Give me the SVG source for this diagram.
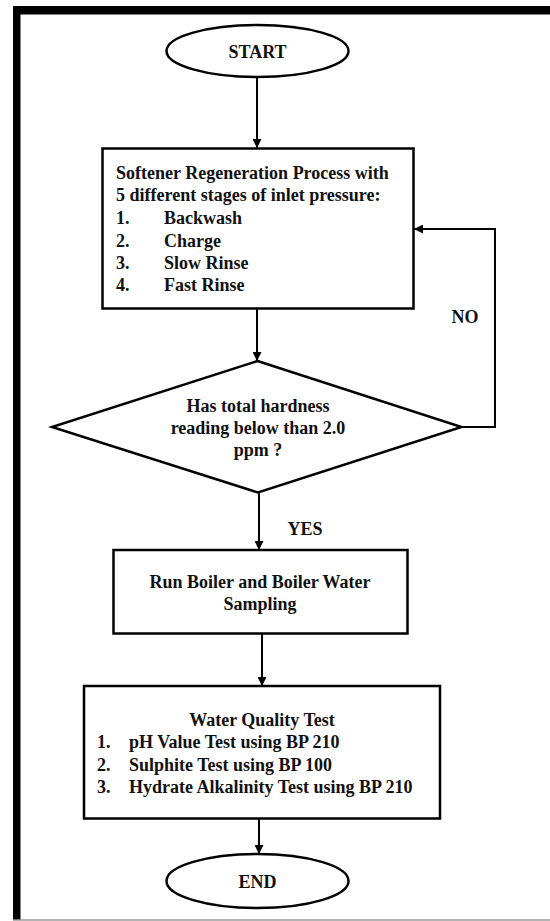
<svg xmlns="http://www.w3.org/2000/svg" width="550" height="921" viewBox="0 0 550 921">
<defs>
<marker id="ah" viewBox="0 0 10 10" refX="10" refY="5" markerWidth="9" markerHeight="9" markerUnits="userSpaceOnUse" orient="auto">
<path d="M0,0 L10,5 L0,10 Z" fill="#000"/>
</marker>
<style>
.shape{fill:#fff;stroke:#000;stroke-width:2.5}
.conn{fill:none;stroke:#000;stroke-width:2;marker-end:url(#ah)}
text{font-family:"Liberation Serif","Times New Roman",serif;font-weight:bold;font-size:18px;fill:#111}
.c{text-anchor:middle}
</style>
</defs>
<rect x="0" y="0" width="550" height="921" fill="#fff"/>
<g id="frame">
<rect x="13" y="6" width="537" height="8.5" fill="#000"/>
<rect x="13" y="6" width="7.5" height="914" fill="#000"/>
<line x1="13" y1="920" x2="550" y2="920" stroke="#999" stroke-width="1.5"/>
</g>
<g id="connectors">
<line class="conn" x1="257" y1="77" x2="257" y2="148"/>
<line class="conn" x1="257" y1="308" x2="257" y2="361"/>
<polyline class="conn" points="462,427 495,427 495,229 414,229"/>
<line class="conn" x1="259" y1="493" x2="259" y2="550"/>
<line class="conn" x1="262" y1="633" x2="262" y2="686"/>
<line class="conn" x1="259" y1="818" x2="259" y2="854"/>
<text x="465" y="323" class="c">NO</text>
<text x="305" y="535" class="c">YES</text>
</g>
<g id="start">
<ellipse class="shape" cx="257.5" cy="51" rx="91" ry="26"/>
<text x="257.5" y="58" class="c">START</text>
</g>
<g id="regeneration">
<rect class="shape" x="102.5" y="148.5" width="311" height="160"/>
<text x="116" y="179">Softener Regeneration Process with</text>
<text x="116" y="201">5 different stages of inlet pressure:</text>
<text x="116" y="224">1.</text><text x="164" y="224">Backwash</text>
<text x="116" y="247">2.</text><text x="164" y="247">Charge</text>
<text x="116" y="269">3.</text><text x="164" y="269">Slow Rinse</text>
<text x="116" y="291">4.</text><text x="164" y="291">Fast Rinse</text>
</g>
<g id="decision">
<polygon class="shape" points="257.5,361 461.5,427 258,492.5 52,427"/>
<text x="258" y="412" class="c">Has total hardness</text>
<text x="258" y="434" class="c">reading below than 2.0</text>
<text x="258" y="456" class="c">ppm ?</text>
</g>
<g id="boiler">
<rect class="shape" x="113.5" y="550" width="294" height="83.5"/>
<text x="260" y="588" class="c">Run Boiler and Boiler Water</text>
<text x="260" y="610" class="c">Sampling</text>
</g>
<g id="quality">
<rect class="shape" x="84" y="686" width="356" height="132.5"/>
<text x="262" y="726" class="c">Water Quality Test</text>
<text x="97" y="748">1.</text><text x="129" y="748">pH Value Test using BP 210</text>
<text x="97" y="771">2.</text><text x="129" y="771">Sulphite Test using BP 100</text>
<text x="97" y="793">3.</text><text x="129" y="793">Hydrate Alkalinity Test using BP 210</text>
</g>
<g id="end">
<ellipse class="shape" cx="257.5" cy="881" rx="91" ry="27"/>
<text x="257.5" y="888" class="c">END</text>
</g>
</svg>
